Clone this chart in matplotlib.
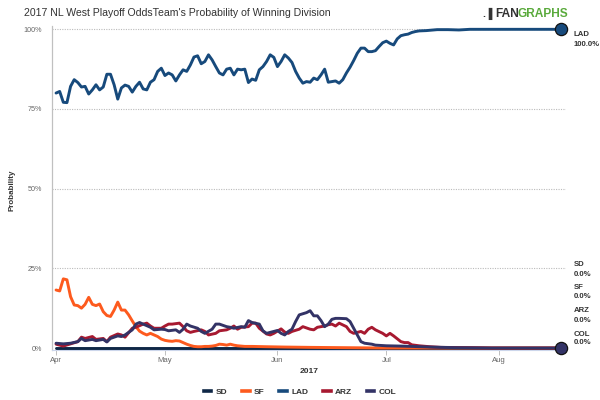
import matplotlib
matplotlib.use("Agg")
import matplotlib.pyplot as plt
import matplotlib.dates as mdates
import pandas as pd

plt.rcParams['font.family'] = ['Liberation Sans', 'DejaVu Sans']

# season start, days below are counted from here
start = pd.Timestamp('2017-04-01')

teams = ['SD', 'SF', 'LAD', 'ARZ', 'COL']
colors = {'SD': '#0f2746', 'SF': '#fd5a1e', 'LAD': '#174a7c', 'ARZ': '#a71930', 'COL': '#333366'}

sd_days = [0, 139]
sd_vals = [0.0, 0.0]

sf_days = [0, 1, 2, 3, 4, 5, 6, 7, 8, 9, 10, 11, 12, 13, 14, 15, 16, 17, 18, 19,
           20, 21, 22, 23, 24, 25, 26, 27, 28, 29, 30, 31, 32, 33, 34, 35, 36, 37, 38, 39,
           40, 41, 42, 43, 44, 45, 46, 47, 48, 49, 50, 52, 54, 58, 63, 70, 80, 90, 139]
sf_vals = [18.2, 17.9, 21.7, 21.4, 16.1, 13.5, 13.3, 12.5, 13.7, 15.9, 13.7, 13.3, 13.8, 11.4, 10.2, 9.9, 11.9, 14.4, 11.9, 11.9,
           10.4, 8.5, 6.7, 5.3, 4.6, 4.1, 4.6, 4.1, 3.6, 2.8, 2.4, 2.2, 2.1, 2.3, 2.2, 1.7, 1.2, 0.8, 0.5, 0.4,
           0.4, 0.5, 0.5, 0.6, 0.8, 1.2, 1.1, 0.9, 1.2, 0.9, 0.7, 0.5, 0.5, 0.4, 0.3, 0.2, 0.1, 0.0, 0.0]

lad_days = list(range(93)) + [93, 94, 95, 96, 97, 98, 99, 100, 102, 104, 105, 108, 111, 114, 120, 130, 139]
lad_vals = [80, 80.5, 77.1, 77, 82.1, 84.2, 83.3, 81.9, 82.1, 79.7,
            81, 82.6, 81, 81.9, 85.9, 85.9, 82.6, 78.1, 81.6, 82.5,
            82.1, 80.3, 82.1, 83.4, 81.3, 81, 83.4, 84.2, 86.8, 87.8,
            85.5, 86.3, 85.7, 83.8, 85.7, 87.3, 86.8, 88.8, 91.3, 91.7,
            89.2, 89.9, 92, 90.4, 88.3, 86.3, 85.7, 87.5, 87.8, 85.7,
            87.5, 87.3, 87.5, 83.3, 84.4, 84, 87.3, 88.3, 89.9, 92,
            91.2, 88.3, 89.9, 92, 91, 89.6, 86.8, 84.7, 83.1, 83.6,
            83.4, 84.7, 84.2, 85.7, 87.5, 83.4, 83.6, 83.8, 83.1, 84.2,
            86.3, 88.1, 90.2, 92.5, 94.1, 94.1, 93, 93, 93.3, 94.6,
            95.8, 96.3, 95.6,
            95.1, 97.0, 98.0, 98.3, 98.5, 99.0, 99.3, 99.5, 99.6, 99.8, 99.9, 99.9, 99.8, 100, 100, 100, 100]

arz_days = [0, 2, 4, 6, 7, 8, 10, 11, 13, 14, 15, 17, 18, 19, 21, 22, 24, 25, 26, 27,
            29, 30, 31, 32, 34, 35, 36, 37, 38, 40, 41, 42, 44, 45, 47, 48, 49, 50, 51, 53,
            54, 55, 56, 58, 59, 60, 62, 63, 64, 65, 67, 68, 70, 71, 72, 74, 75, 76, 77, 78,
            80, 81, 82, 84, 85, 86, 87, 88, 90, 91, 92, 93, 95, 96, 97, 98, 100, 103, 106, 115, 120, 139]
arz_vals = [1.2, 0.6, 1.3, 2.0, 3.4, 3.0, 3.6, 2.7, 3.0, 2.0, 3.4, 4.4, 4.1, 3.4, 6.2, 6.5, 7.5, 7.8, 6.9, 6.2,
            6.2, 6.9, 7.5, 7.5, 7.8, 6.7, 5.4, 4.9, 5.2, 5.7, 5.2, 4.1, 4.6, 5.4, 5.7, 6.2, 6.9, 5.9, 6.5, 6.7,
            7.8, 7.8, 6.2, 4.4, 4.1, 4.6, 6.0, 5.0, 4.6, 5.2, 5.9, 6.7, 5.9, 5.7, 6.5, 6.9, 7.3, 7.5, 6.9, 7.8,
            6.7, 5.2, 4.6, 5.2, 4.6, 5.9, 6.5, 5.7, 4.6, 3.8, 4.6, 3.8, 2.0, 1.7, 1.7, 1.0, 0.7, 0.4, 0.2, 0.1, 0.0, 0.0]

col_days = [0, 2, 4, 6, 7, 8, 10, 11, 13, 14, 15, 17, 18, 19, 21, 22, 23, 24, 26, 27,
            29, 30, 31, 33, 34, 35, 36, 37, 39, 40, 41, 43, 44, 45, 47, 48, 49, 51, 52, 53,
            54, 56, 57, 58, 60, 61, 62, 63, 64, 65, 66, 67, 69, 70, 71, 72, 73, 74, 75, 76,
            77, 78, 80, 81, 82, 83, 84, 85, 87, 88, 91, 95, 98, 103, 110, 120, 139]
col_vals = [1.5, 1.3, 1.5, 2.0, 3.0, 2.3, 2.7, 2.3, 2.7, 1.9, 3.0, 3.8, 3.6, 4.1, 5.7, 7.5, 8.0, 7.5, 6.5, 5.7,
            5.9, 5.8, 5.4, 5.7, 4.9, 5.9, 7.5, 6.9, 6.2, 5.2, 4.6, 5.9, 7.5, 7.5, 6.7, 6.5, 6.2, 6.7, 6.5, 8.6,
            8.0, 7.5, 5.4, 4.6, 5.2, 5.5, 4.6, 4.1, 5.2, 5.9, 8.3, 10.4, 11.1, 11.7, 10.1, 10.1, 8.6, 6.7, 7.5, 9.0,
            9.3, 9.3, 9.2, 8.3, 6.2, 4.1, 2.0, 1.5, 1.2, 0.9, 0.7, 0.6, 0.5, 0.3, 0.1, 0.0, 0.0]

series = {
    'SD': (sd_days, sd_vals),
    'SF': (sf_days, sf_vals),
    'LAD': (lad_days, lad_vals),
    'ARZ': (arz_days, arz_vals),
    'COL': (col_days, col_vals),
}

month_ticks = ['2017-04-01', '2017-05-01', '2017-06-01', '2017-07-01', '2017-08-01']
month_labels = ['Apr', 'May', 'Jun', 'Jul', 'Aug']
y_ticks = [0, 25, 50, 75, 100]
y_labels = ['0%', '25%', '50%', '75%', '100%']

W, H = 600, 400
fig = plt.figure(figsize=(6, 4), dpi=100)
# axes placed in pixels so the grid lines land where the reference has them
ax_l, ax_r, ax_t, ax_b = 51.7, 566, 25.5, 349.6
ax = fig.add_axes([ax_l / W, 1 - ax_b / H, (ax_r - ax_l) / W, (ax_b - ax_t) / H])

def to_dates(days):
    return start + pd.to_timedelta(days, unit='D')

for t in teams:
    d, v = series[t]
    ax.plot(to_dates(d), v, color=colors[t], lw=2.1, solid_joinstyle='round',
            solid_capstyle='round', clip_on=False, zorder=3)

# big dots at the last value for the leader and the bottom series
for t in ['LAD', 'COL']:
    d, v = series[t]
    ax.plot(to_dates(d[-1:]), v[-1:], 'o', ms=8.8, color=colors[t],
            mec='#111111', mew=0.9, clip_on=False, zorder=5)

ax.set_ylim(-0.5, 101.2)
ax.set_xlim(mdates.date2num(start) - 1.2, mdates.date2num(start) + 140.5)

for yv in y_ticks[1:]:
    ax.axhline(yv, color='#bbbbbb', lw=0.8, ls=(0, (1, 1.2)), zorder=1)

ax.set_yticks(y_ticks)
ax.set_yticklabels(y_labels)
ax.tick_params(axis='y', length=0, pad=7, labelsize=5.2, labelcolor='#666666')
ax.set_xticks(pd.to_datetime(month_ticks))
ax.set_xticklabels(month_labels)
ax.tick_params(axis='x', length=3.5, width=0.7, color='#c0c0c0', pad=1.5,
               labelsize=5.6, labelcolor='#666666')

for s in ['top', 'right']:
    ax.spines[s].set_visible(False)
ax.spines['left'].set_color('#c0c0c0')
ax.spines['left'].set_linewidth(0.9)
ax.spines['bottom'].set_color('#ccd6eb')

ax.set_xlabel('2017', fontsize=6, fontweight='bold', color='#333333', labelpad=3)
fig.text(12 / W, 1 - 190 / H, 'Probability', rotation=90, ha='center', va='center',
         fontsize=5.8, fontweight='bold', color='#333333')

fig.text(24 / W, 1 - 12.7 / H, "2017 NL West Playoff OddsTeam's Probability of Winning Division",
         ha='left', va='center', fontsize=7.6, color='#333333')

# fangraphs logo text
fig.text(495 / W, 1 - 14 / H, 'FAN', ha='left', va='center', fontsize=8.6,
         fontweight='bold', color='#333333')
fig.text(518 / W, 1 - 14 / H, 'GRAPHS', ha='left', va='center', fontsize=8.6,
         fontweight='bold', color='#5aaa3c')
fig.text(482 / W, 1 - 14 / H, '.\u2590', ha='left', va='center', fontsize=7.5,
         fontweight='bold', color='#333333')

# end labels on the right
label_y = {'LAD': (35, 44.3), 'SD': (264, 274), 'SF': (287.7, 296.7),
           'ARZ': (310.7, 320), 'COL': (334, 343)}
for t in ['LAD', 'SD', 'SF', 'ARZ', 'COL']:
    y1, y2 = label_y[t]
    fig.text(574 / W, 1 - y1 / H, t, ha='left', va='center', fontsize=5.6,
             fontweight='bold', color='#333333')
    fig.text(574 / W, 1 - y2 / H, '%.1f%%' % series[t][1][-1], ha='left', va='center',
             fontsize=5.6, fontweight='bold', color='#333333')

handles = [plt.Line2D([], [], color=colors[t], lw=2.6) for t in teams]
leg = fig.legend(handles, teams, loc='center', bbox_to_anchor=(0.5, 1 - 392 / H), ncol=5,
                 frameon=False, handlelength=0.9, handletextpad=0.5, columnspacing=1.8,
                 prop={'size': 6, 'weight': 'bold'})
for txt in leg.get_texts():
    txt.set_color('#333333')

fig.savefig('out.png', dpi=100)
